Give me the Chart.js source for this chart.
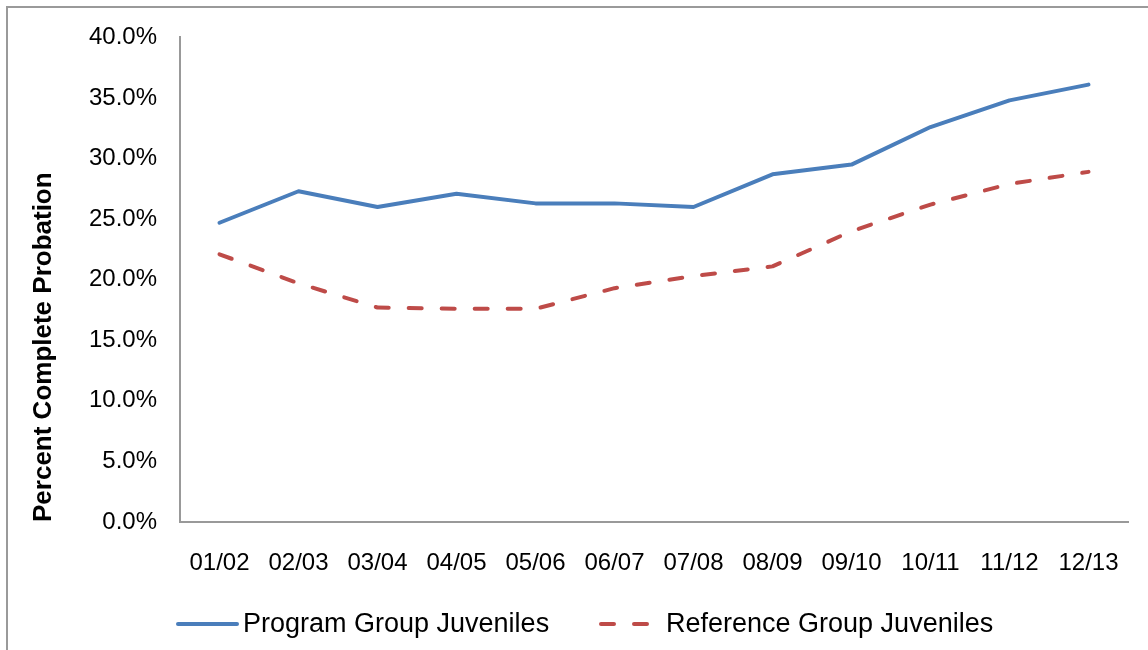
<!DOCTYPE html>
<html>
<head>
<meta charset="utf-8">
<script src="https://cdn.jsdelivr.net/npm/chart.js@4/dist/chart.umd.min.js"></script>
<style>
  html, body { margin: 0; padding: 0; background: #fff; }
  #wrap { position: relative; width: 1148px; height: 650px; overflow: hidden; }
  #frame { position: absolute; left: 6px; top: 6px; width: 1200px; height: 700px;
           border-left: 2px solid #9a9a9a; border-top: 2px solid #9a9a9a; }
  canvas { position: absolute; left: 0; top: 0; }
</style>
</head>
<body>
<div id="wrap">
  <div id="frame"></div>
  <canvas id="chart" width="1148" height="650"></canvas>
</div>
<script>
// school years
const years = ["01/02", "02/03", "03/04", "04/05", "05/06", "06/07",
               "07/08", "08/09", "09/10", "10/11", "11/12", "12/13"];

// percent complete probation
const programGroup = [24.7, 27.3, 26.0, 27.1, 26.3, 26.3, 26.0, 28.7, 29.5, 32.6, 34.8, 36.1];
const referenceGroup = [22.1, 19.7, 17.7, 17.6, 17.6, 19.3, 20.3, 21.1, 24.0, 26.2, 27.9, 28.9];

const seriesNames = ["Program Group Juveniles", "Reference Group Juveniles"];
const yTicks = [0, 5, 10, 15, 20, 25, 30, 35, 40];

const FONT = "'Liberation Sans', Arial, sans-serif";
const blue = "#4a7ebb";
const red = "#be4b48";

// legend drawn by hand so the line samples look like the original
const legendPlugin = {
  id: "lineLegend",
  afterDraw(chart) {
    const ctx = chart.ctx;
    const y = 624;
    const starts = [178, 601];
    ctx.save();
    ctx.font = "27px " + FONT;
    ctx.textBaseline = "middle";
    chart.data.datasets.forEach((ds, i) => {
      const x = starts[i];
      ctx.strokeStyle = ds.borderColor;
      ctx.lineWidth = 4;
      ctx.lineCap = "round";
      ctx.setLineDash(ds.borderDash || []);
      ctx.beginPath();
      ctx.moveTo(x, y);
      ctx.lineTo(x + 59, y);
      ctx.stroke();
      ctx.setLineDash([]);
      ctx.fillStyle = "#000";
      ctx.fillText(ds.label, x + 65, y + 1);
    });
    ctx.restore();
  }
};

const ctx = document.getElementById("chart").getContext("2d");

new Chart(ctx, {
  type: "line",
  data: {
    labels: years,
    datasets: [
      {
        label: seriesNames[0],
        data: programGroup,
        borderColor: blue,
        borderWidth: 4,
        pointRadius: 0,
        tension: 0,
        borderCapStyle: "round",
        borderJoinStyle: "round"
      },
      {
        label: seriesNames[1],
        data: referenceGroup,
        borderColor: red,
        borderWidth: 4,
        borderDash: [13, 20],
        pointRadius: 0,
        tension: 0,
        borderCapStyle: "round",
        borderJoinStyle: "round"
      }
    ]
  },
  options: {
    responsive: false,
    animation: false,
    layout: { padding: { left: 0, right: 20, top: 34, bottom: 0 } },
    plugins: {
      legend: { display: false },
      tooltip: { enabled: false }
    },
    scales: {
      x: {
        offset: true,
        afterFit: (s) => { s.height = 128; },
        grid: { display: false, drawTicks: false, offset: true },
        border: { display: true, color: "#999", width: 2 },
        ticks: {
          color: "#000",
          font: { family: FONT, size: 24 },
          padding: 27,
          maxRotation: 0,
          autoSkip: false
        }
      },
      y: {
        min: 0,
        max: 40,
        afterFit: (s) => { s.width = 180; },
        afterBuildTicks: (s) => { s.ticks = yTicks.map(v => ({ value: v })); },
        grid: { display: false, drawTicks: false },
        border: { display: true, color: "#999", width: 2 },
        ticks: {
          color: "#000",
          font: { family: FONT, size: 24 },
          padding: 23,
          callback: (v) => v.toFixed(1) + "%"
        },
        title: {
          display: true,
          align: "start",
          text: "Percent Complete Probation",
          color: "#000",
          font: { family: FONT, size: 26, weight: "bold" },
          padding: { top: 28, bottom: 0 }
        }
      }
    }
  },
  plugins: [legendPlugin]
});
</script>
</body>
</html>
